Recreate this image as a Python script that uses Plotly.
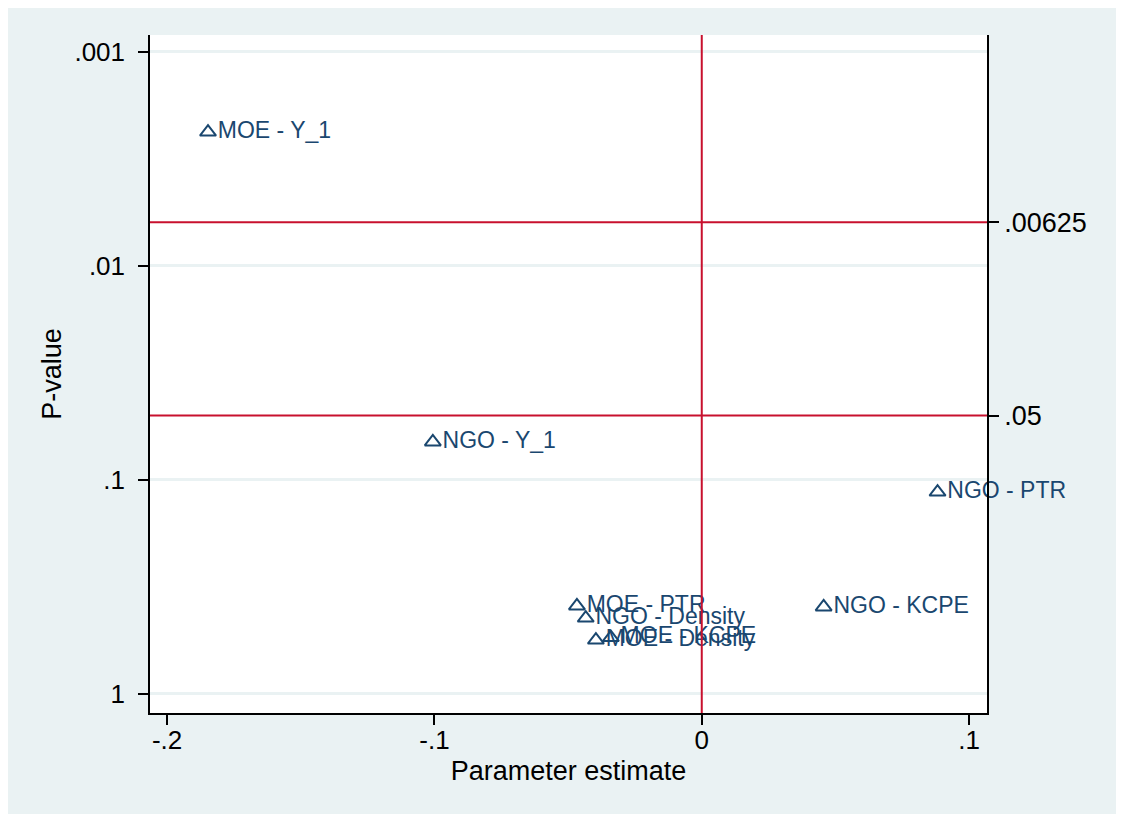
import plotly.graph_objects as go

# Data
labels = ["MOE - Y_1", "NGO - Y_1", "NGO - PTR", "NGO - KCPE",
          "MOE - PTR", "NGO - Density", "MOE - KCPE", "MOE - Density"]
estimates = [-0.1847, -0.1006, 0.0882, 0.0456, -0.0467, -0.0434, -0.0340, -0.0396]
pvalues = [0.00237, 0.0664, 0.114, 0.392, 0.388, 0.442, 0.545, 0.560]

x_ticks = [-0.2, -0.1, 0, 0.1]
x_ticktext = ["-.2", "-.1", "0", ".1"]
y_ticks = [0.001, 0.01, 0.1, 1]
y_ticktext = [".001", ".01", ".1", "1"]
y2_ticks = [0.00625, 0.05]
y2_ticktext = [".00625", ".05"]
xline_vals = [0]
yline_vals = [0.00625, 0.05]

NAVY = "#1a476f"
RED = "#c8102e"
BG = "#eaf2f3"
FONT = "Liberation Sans, Arial, sans-serif"

x_range = [-0.2064, 0.1067]
y_range = [0.089, -3.079]  # log10 units, reversed

fig = go.Figure()
fig.add_trace(go.Scatter(
    x=estimates, y=pvalues, text=labels,
    mode="markers+text", textposition="middle right",
    marker=dict(symbol="triangle-up-open", size=14, color=NAVY,
                line=dict(width=2, color=NAVY)),
    textfont=dict(size=23, color=NAVY, family=FONT),
    cliponaxis=False, showlegend=False,
))
# invisible trace for right axis
fig.add_trace(go.Scatter(x=[estimates[0]], y=[pvalues[0]], yaxis="y2",
                         mode="markers", marker=dict(opacity=0),
                         showlegend=False, hoverinfo="skip"))

# background shapes
fig.add_shape(type="rect", xref="paper", yref="paper",
              x0=-0.1708, x1=1.1565, y0=-0.149, y1=1.0428,
              fillcolor=BG, line=dict(width=0), layer="below")
fig.add_shape(type="rect", xref="paper", yref="paper",
              x0=0, x1=1, y0=0, y1=1,
              fillcolor="white", line=dict(width=0), layer="below")

for xv in xline_vals:
    fig.add_shape(type="line", xref="x", yref="paper", x0=xv, x1=xv, y0=0, y1=1,
                  line=dict(color=RED, width=2), layer="above")
for yv in yline_vals:
    fig.add_shape(type="line", xref="paper", yref="y", x0=0, x1=1, y0=yv, y1=yv,
                  line=dict(color=RED, width=2), layer="above")

fig.update_layout(
    width=1116, height=812,
    margin=dict(l=142, r=137, t=27, b=107),
    paper_bgcolor="white", plot_bgcolor="rgba(0,0,0,0)",
    font=dict(family=FONT, color="black"),
    xaxis=dict(range=x_range, tickvals=x_ticks, ticktext=x_ticktext,
               showgrid=False, zeroline=False, showline=True, linecolor="black",
               linewidth=1.5, ticks="outside", ticklen=10, tickwidth=1.5,
               tickcolor="black", tickfont=dict(size=26), ticklabelstandoff=-7,
               title=dict(text="Parameter estimate", font=dict(size=27), standoff=7)),
    yaxis=dict(type="log", range=y_range, tickvals=y_ticks, ticktext=y_ticktext,
               showgrid=True, gridcolor=BG, gridwidth=3, zeroline=False,
               showline=True, linecolor="black", linewidth=1.5,
               ticks="outside", ticklen=10, tickwidth=1.5, tickcolor="black",
               tickfont=dict(size=26), ticklabelstandoff=8,
               title=dict(text="P-value", font=dict(size=27), standoff=5)),
    yaxis2=dict(type="log", range=y_range, overlaying="y", side="right", anchor="x",
                tickvals=y2_ticks, ticktext=y2_ticktext, showgrid=False,
                zeroline=False, showline=True, linecolor="black", linewidth=1.5,
                ticks="outside", ticklen=10, tickwidth=1.5, tickcolor="black",
                tickfont=dict(size=27)),
)

fig.write_html("out.html")
